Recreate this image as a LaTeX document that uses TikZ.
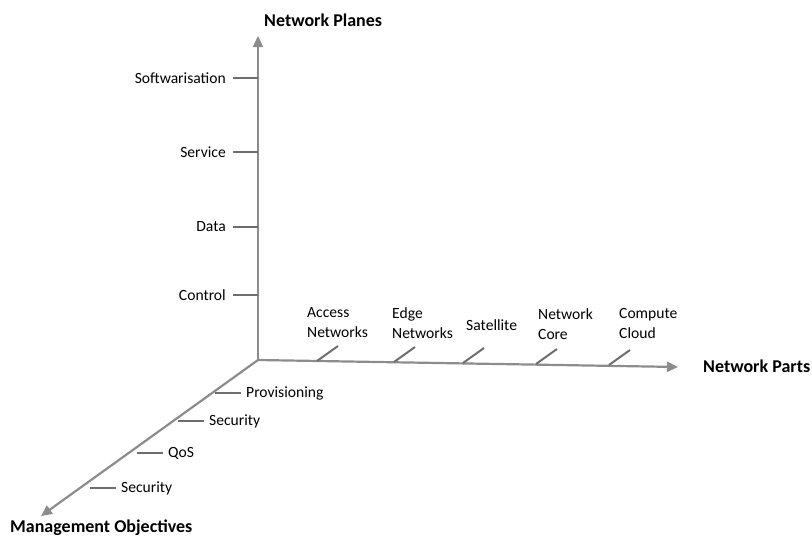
\documentclass[tikz,border=0pt]{standalone}
\usepackage{fontspec}
\setmainfont{Carlito}
\usetikzlibrary{arrows.meta}
\definecolor{axisgray}{RGB}{140,140,140}
\definecolor{tickgray}{RGB}{110,110,110}
\tikzset{
  axis/.style={draw=axisgray, line width=2.2pt, -{Triangle[length=11pt,width=10pt]}},
  tick/.style={draw=tickgray, line width=2pt},
  lbl/.style={inner sep=0pt, font=\fontsize{15.6}{20}\selectfont, align=left},
  ttl/.style={inner sep=0pt, font=\fontsize{18}{21}\selectfont\bfseries}
}
\begin{document}
\begin{tikzpicture}[x=1pt, y=-1pt]
            \useasboundingbox (0,0) rectangle (812,538);
            
            % Origin and axis ends
            \coordinate (O) at (258,360);%
            \coordinate (planesEnd) at (258,36);%
            \coordinate (partsEnd) at (678,367);%
            \coordinate (objEnd) at (41,516);%
            
            % Axis titles
            \node [ttl, anchor=west] (planes) at (264,20) {Network Planes};%
            \node [ttl, anchor=west] (parts) at (703,366) {Network Parts};%
            \node [ttl, anchor=west] (objectives) at (10,528) {Management Objectives};%
            
            % Drawing the three axes
            \draw [axis] (O) -- (planesEnd);%
            \draw [axis] (O) -- (partsEnd);%
            \draw [axis] (O) -- (objEnd);%
            
            % Ticks on network planes axis
            \foreach \name/\txt/\y in {soft/Softwarisation/78, serv/Service/152, data/Data/227, ctrl/Control/295}{
              \coordinate (\name) at (258,\y);%
              \coordinate (\name T) at (233,\y);%
              \draw [tick] (\name) -- (\name T);%
              \node [lbl, anchor=east] (\name L) at (226,\y) {\txt};%
            }
            
            % Ticks on network parts axis
            \foreach \name/\x/\y in {acc/317/361, edge/394/362, sat/463/363, core/536/364, cloud/609/365}{
              \coordinate (\name) at (\x,\y);%
              \coordinate (\name T) at (\x+21,\y-15);%
              \draw [tick] (\name) -- (\name T);%
            }
            \node [lbl, anchor=west] (accL) at (307,323) {Access\\Networks};%
            \node [lbl, anchor=west] (edgeL) at (392,323) {Edge\\Networks};%
            \node [lbl, anchor=west] (satL) at (466,325) {Satellite};%
            \node [lbl, anchor=west] (coreL) at (538,324) {Network\\Core};%
            \node [lbl, anchor=west] (cloudL) at (619,323) {Compute\\Cloud};%
            
            % Ticks on management objectives axis
            \foreach \name/\txt/\x/\y in {prov/Provisioning/215/393, secA/Security/178/421, qos/QoS/137/453, secB/Security/90/488}{
              \coordinate (\name) at (\x,\y);%
              \coordinate (\name T) at (\x+26,\y);%
              \draw [tick] (\name) -- (\name T);%
              \node [lbl, anchor=west] (\name L) at (\x+31,\y) {\txt};%
            }
\end{tikzpicture}
\end{document}
